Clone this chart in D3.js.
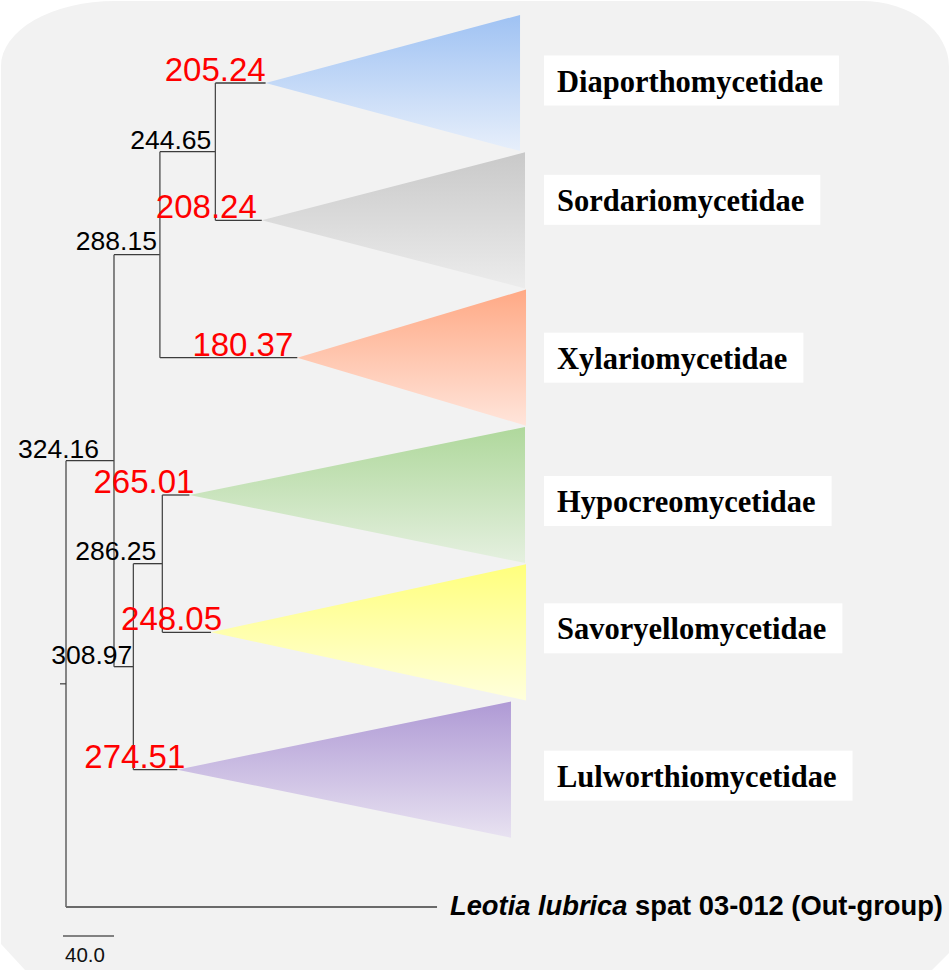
<!DOCTYPE html>
<html>
<head>
<meta charset="utf-8">
<script src="https://cdn.jsdelivr.net/npm/d3@7/dist/d3.min.js"></script>
<style>
  html, body { margin: 0; padding: 0; background: #ffffff; }
  svg { display: block; }
</style>
</head>
<body>
<div id="chart"></div>
<script>
// ---------------- DATA ----------------
// Internal nodes of the time tree (ages in Ma)
const internalIds     = ["root", "n324", "n288", "n244", "n309", "n286"];
const internalAges    = [361.8, 324.16, 288.15, 244.65, 308.97, 286.25];
const internalParents = [null, "root", "n324", "n288", "n324", "n309"];
const internalShowAge = [false, true, true, true, true, true];

// Collapsed clades (triangles): crown age and youngest tip age
const clades       = ["Diaporthomycetidae", "Sordariomycetidae", "Xylariomycetidae",
                      "Hypocreomycetidae", "Savoryellomycetidae", "Lulworthiomycetidae"];
const crownAges    = [205.24, 208.24, 180.37, 265.01, 248.05, 274.51];
const tipAges      = [5.7, 1.8, 1.0, 1.8, 1.0, 12.8];
const cladeParents = ["n244", "n244", "n288", "n286", "n286", "n309"];

// Out-group
const outgroupItalic = "Leotia lubrica";
const outgroupRest   = " spat 03-012 (Out-group)";
const outgroupTipAge = 70.8;
const outgroupParent = "root";

// Scale bar
const scaleBarValue = 40;
const scaleBarLabel = "40.0";

// ---------------- STYLE / LAYOUT ----------------
const W = 950, H = 972;
const cladeTop    = ["#9fc2f3", "#c9c9c9", "#ffa985", "#afd89c", "#ffff7d", "#af9ad5"];
const cladeBottom = ["#e7effb", "#ececec", "#ffe5db", "#e5f0e0", "#ffffdc", "#e8e2f1"];
// small label nudges (layout only)
const blackDx = { n324: -15, n288: -3, n244: -4, n309: -1, n286: -6 };
const blackDy = { n324: -3,  n288: -5, n244: -3, n309: -3, n286: -4 };
const redDx   = [0, -5, -4, 5, 11, 8];
const boxDy   = [-2.5, -20.5, 0, 6, -4, 6];
const childOrder = { n324: 0, outgroup: 1, n288: 0, n309: 1, n244: 0, Xylariomycetidae: 1,
                     Diaporthomycetidae: 0, Sordariomycetidae: 1, n286: 0, Lulworthiomycetidae: 1,
                     Hypocreomycetidae: 0, Savoryellomycetidae: 1 };

// ---------------- BUILD HIERARCHY ----------------
const rows = [];
internalIds.forEach((id, i) => rows.push({ id, parent: internalParents[i], age: internalAges[i], type: "internal", showAge: internalShowAge[i] }));
clades.forEach((c, i) => rows.push({ id: c, parent: cladeParents[i], age: crownAges[i], tip: tipAges[i], type: "clade", idx: i }));
rows.push({ id: "outgroup", parent: outgroupParent, age: outgroupTipAge, type: "outgroup" });

const root = d3.stratify().id(d => d.id).parentId(d => d.parent)(rows);
root.each(n => { if (n.children) n.children.sort((a, b) => childOrder[a.id] - childOrder[b.id]); });
const leaves = root.leaves();

// ---------------- SCALES ----------------
const x = d3.scaleLinear().domain([0, internalAges[0]]).range([527.3, 66]);
const y = d3.scalePoint().domain(leaves.map(d => d.id)).range([83, 907]);
const step = y.step();

root.eachAfter(n => {
  n.px = x(n.data.age);
  if (!n.children) n.py = y(n.id);
  else n.py = (n.children[0].py + n.children[n.children.length - 1].py) / 2;
});

// ---------------- DRAW ----------------
const svg = d3.select("#chart").append("svg").attr("width", W).attr("height", H);
const defs = svg.append("defs");

// background panel
svg.append("path")
  .attr("d", "M1,66 A114,65 0 0 1 115,1 L862,1 A87,66 0 0 1 949,67 L949,953 L932,970 L25,970 L1,944 Z")
  .attr("fill", "#f2f2f2");

// gradients
clades.forEach((c, i) => {
  const g = defs.append("linearGradient").attr("id", "grad" + i)
    .attr("x1", 0).attr("y1", 0).attr("x2", 0).attr("y2", 1);
  g.append("stop").attr("offset", "0%").attr("stop-color", cladeTop[i]);
  g.append("stop").attr("offset", "100%").attr("stop-color", cladeBottom[i]);
});

// triangles
const half = step / 2 - 0.6;
const cladeNodes = root.descendants().filter(n => n.data.type === "clade");
svg.append("g").selectAll("path").data(cladeNodes).join("path")
  .attr("d", n => {
    const xr = x(n.data.tip);
    return `M${n.px},${n.py} L${xr},${n.py - half} L${xr},${n.py + half} Z`;
  })
  .attr("fill", n => `url(#grad${n.data.idx})`);

// branches
const branchG = svg.append("g").attr("fill", "none");
const nonRoot = root.descendants().filter(n => n.parent);
branchG.selectAll("path.h").data(nonRoot.filter(n => n.data.type !== "outgroup")).join("path")
  .attr("d", n => `M${n.parent.px},${n.py} H${n.px}`)
  .attr("stroke", "#3c3c3c").attr("stroke-width", 1.3);
branchG.selectAll("path.v").data(root.descendants().filter(n => n.children)).join("path")
  .attr("d", n => `M${n.px},${n.children[0].py} V${n.children[n.children.length - 1].py}`)
  .attr("stroke", "#4a4a4a").attr("stroke-width", 1.3);
// root stub
branchG.append("path").attr("d", `M${root.px - 6},${root.py} H${root.px}`)
  .attr("stroke", "#3c3c3c").attr("stroke-width", 1.2);
// outgroup branch
const og = nonRoot.find(n => n.data.type === "outgroup");
branchG.append("path").attr("d", `M${og.parent.px},${og.py} H${og.px}`)
  .attr("stroke", "#6a6a6a").attr("stroke-width", 2.2);

// black node-age labels
const internalLabelNodes = root.descendants().filter(n => n.data.type === "internal" && n.data.showAge);
svg.append("g").selectAll("text").data(internalLabelNodes).join("text")
  .attr("x", n => n.px + blackDx[n.id])
  .attr("y", n => n.py + blackDy[n.id])
  .attr("text-anchor", "end")
  .attr("font-family", "'Liberation Sans', Arial, sans-serif")
  .attr("font-size", 26.5)
  .attr("fill", "#000")
  .text(n => n.data.age.toFixed(2));

// red crown-age labels
svg.append("g").selectAll("text").data(cladeNodes).join("text")
  .attr("x", n => n.px + redDx[n.data.idx])
  .attr("y", n => n.py - 2)
  .attr("text-anchor", "end")
  .attr("font-family", "'Liberation Sans', Arial, sans-serif")
  .attr("font-size", 33)
  .attr("fill", "#ff0000")
  .text(n => n.data.age.toFixed(2));

// clade name boxes
const labelG = svg.append("g");
cladeNodes.forEach(n => {
  const i = n.data.idx;
  const cy = n.py + boxDy[i];
  const g = labelG.append("g");
  const rect = g.append("rect").attr("fill", "#ffffff");
  const t = g.append("text")
    .attr("x", 557).attr("y", cy + 11)
    .attr("font-family", "'Liberation Serif', 'Times New Roman', serif")
    .attr("font-weight", "bold")
    .attr("font-size", 30.5)
    .attr("fill", "#000")
    .text(clades[i]);
  const w = t.node().getComputedTextLength();
  rect.attr("x", 544).attr("y", cy - 25).attr("width", w + 29).attr("height", 50);
});

// outgroup label
const ot = svg.append("text")
  .attr("x", og.px + 13).attr("y", og.py + 8)
  .attr("font-family", "'Liberation Sans', Arial, sans-serif")
  .attr("font-weight", "bold")
  .attr("font-size", 27.3)
  .attr("fill", "#000");
ot.append("tspan").attr("font-style", "italic").text(outgroupItalic);
ot.append("tspan").text(outgroupRest);

// scale bar
const sbLen = x(0) - x(scaleBarValue);
const sbX = 63, sbY = 936;
svg.append("line").attr("x1", sbX).attr("x2", sbX + sbLen).attr("y1", sbY).attr("y2", sbY)
  .attr("stroke", "#111").attr("stroke-width", 1.2);
svg.append("text").attr("x", sbX + 2).attr("y", 962)
  .attr("font-family", "'Liberation Sans', Arial, sans-serif")
  .attr("font-size", 20.5).attr("fill", "#111")
  .text(scaleBarLabel);
</script>
</body>
</html>
